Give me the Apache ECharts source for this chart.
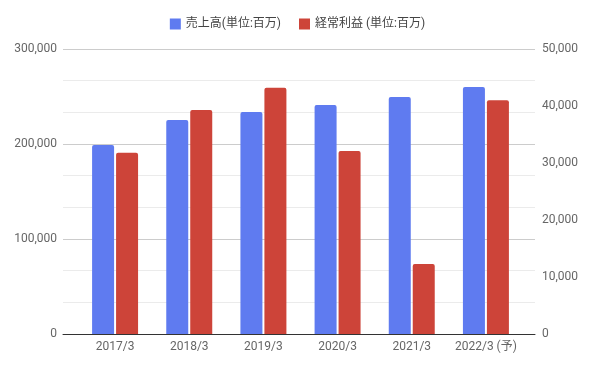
<!DOCTYPE html>
<html><head><meta charset="utf-8">
<script src="https://cdn.jsdelivr.net/npm/echarts@6/dist/echarts.min.js"></script>
<style>html,body{margin:0;padding:0;background:#fff}#c{width:595px;height:369px}</style>
</head><body><div id="c"></div>
<script>
const categories = ['2017/3','2018/3','2019/3','2020/3','2021/3','2022/3 (予)'];
const salesName = '売上高(単位:百万)';
const profitName = '経常利益 (単位:百万)';
const sales = [199000, 225300, 233700, 241000, 249500, 260000];
const profit = [31800, 39300, 43200, 32100, 12300, 41000];
const leftTicks = [0, 100000, 200000, 300000];
const rightTicks = [0, 10000, 20000, 30000, 40000, 50000];

const fmt = v => v.toLocaleString('en-US');
const font = 'Roboto, "Noto Sans CJK JP", sans-serif';
const chart = echarts.init(document.getElementById('c'));
chart.setOption({
  animation: false,
  textStyle: {fontFamily: font},
  legend: {
    top: 13, left: 'center', icon: 'rect', itemWidth: 11, itemHeight: 11, itemGap: 18,
    textStyle: {fontSize: 12, color: '#444', fontFamily: font},
    data: [salesName, profitName]
  },
  grid: [
    {left: 63, right: 60, top: 49, bottom: 35},
    {left: 78, right: 72, top: 49, bottom: 35}
  ],
  xAxis: [
    {type: 'category', gridIndex: 0, data: categories, axisLabel: {show: false}, axisTick: {show: false},
     axisLine: {lineStyle: {color: '#333', width: 1}}, z: 5},
    {type: 'category', gridIndex: 1, data: categories, axisTick: {show: false}, axisLine: {show: false},
     axisLabel: {color: '#666', fontSize: 12, margin: 7, interval: 0, fontFamily: font}}
  ],
  yAxis: [
    {type: 'value', gridIndex: 0, min: leftTicks[0], max: leftTicks[leftTicks.length-1], interval: 100000,
     axisLine: {show: false}, axisTick: {show: false},
     axisLabel: {color: '#666', fontSize: 12, margin: 6, formatter: fmt},
     splitLine: {lineStyle: {color: '#ccc'}},
     minorTick: {show: false, splitNumber: 3},
     minorSplitLine: {show: true, lineStyle: {color: '#ebebeb'}}},
    {type: 'value', gridIndex: 0, position: 'right', min: rightTicks[0], max: rightTicks[rightTicks.length-1], interval: 10000,
     axisLine: {show: false}, axisTick: {show: false}, splitLine: {show: false},
     axisLabel: {color: '#666', fontSize: 12, margin: 7, formatter: fmt}},
    {type: 'value', gridIndex: 1, min: 0, max: 300000, show: false},
    {type: 'value', gridIndex: 1, min: 0, max: 50000, show: false}
  ],
  series: [
    {name: salesName, type: 'bar', xAxisIndex: 1, yAxisIndex: 2, data: sales, barWidth: 22, barGap: '9%',
     itemStyle: {color: '#5f7bf0', borderRadius: [2,2,0,0]}},
    {name: profitName, type: 'bar', xAxisIndex: 1, yAxisIndex: 3, data: profit, barWidth: 22, barGap: '9%',
     itemStyle: {color: '#cd4439', borderRadius: [2,2,0,0]}}
  ]
});
</script></body></html>
